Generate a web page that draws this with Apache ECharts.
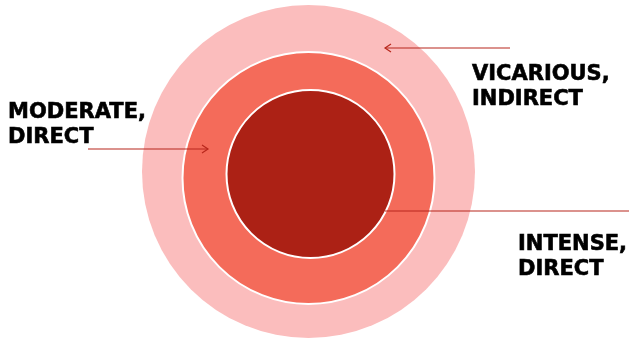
<!DOCTYPE html>
<html>
<head>
<meta charset="utf-8">
<script src="https://cdn.jsdelivr.net/npm/echarts@6/dist/echarts.min.js"></script>
<style>
html,body{margin:0;padding:0;background:#fff;}
#c{width:629px;height:339px;}
</style>
</head>
<body>
<div id="c"></div>
<script>
// Layers, outer to inner
const layerNames = ['VICARIOUS, INDIRECT', 'MODERATE, DIRECT', 'INTENSE, DIRECT'];
const layerValues = [1, 1, 1];
const labelLines = [['VICARIOUS,', 'INDIRECT'], ['MODERATE,', 'DIRECT'], ['INTENSE,', 'DIRECT']];

const colors = ['#FBBDBD', '#F46B5A', '#AC2115'];
const centers = [[308.5, 171.5], [308.5, 178], [310.5, 174]];
const radii = [166.5, 126, 84];
const borders = [0, 2, 2];

const arrowColor = '#B8271C';
const font = 'bold 21px "DejaVu Sans", Verdana, sans-serif';

const chart = echarts.init(document.getElementById('c'), null, {renderer: 'canvas'});

const series = layerNames.map((n, i) => ({
  type: 'pie',
  silent: true,
  center: centers[i],
  radius: [0, radii[i]],
  label: {show: false},
  labelLine: {show: false},
  animation: false,
  z: i + 1,
  itemStyle: {color: colors[i], borderColor: '#fff', borderWidth: borders[i]},
  data: [{name: n, value: layerValues[i]}]
}));

function arrow(x1, y1, x2, y2, head) {
  const els = [{
    type: 'line', z: 100, silent: true,
    shape: {x1, y1, x2, y2},
    style: {stroke: arrowColor, lineWidth: 1.2}
  }];
  if (head) {
    const dir = x2 > x1 ? 1 : -1;
    els.push({
      type: 'polyline', z: 100, silent: true,
      shape: {points: [[x2 - dir * 6, y2 - 4], [x2, y2], [x2 - dir * 6, y2 + 4]]},
      style: {stroke: arrowColor, lineWidth: 1.2, fill: null}
    });
  }
  return els;
}

function label(x, y, lines) {
  return {
    type: 'text', z: 100, silent: true, x, y,
    style: {text: lines.join('\n'), font, fill: '#000', lineHeight: 25, verticalAlign: 'top',
            stroke: '#000', lineWidth: 0.6}
  };
}

chart.setOption({
  backgroundColor: '#fff',
  animation: false,
  series,
  graphic: [].concat(
    arrow(510, 48, 385, 48, true),
    arrow(88, 149, 208, 149, true),
    arrow(629, 211, 385, 211, false),
    [label(472, 62, labelLines[0]), label(8, 100, labelLines[1]), label(518, 232, labelLines[2])]
  )
});
</script>
</body>
</html>
